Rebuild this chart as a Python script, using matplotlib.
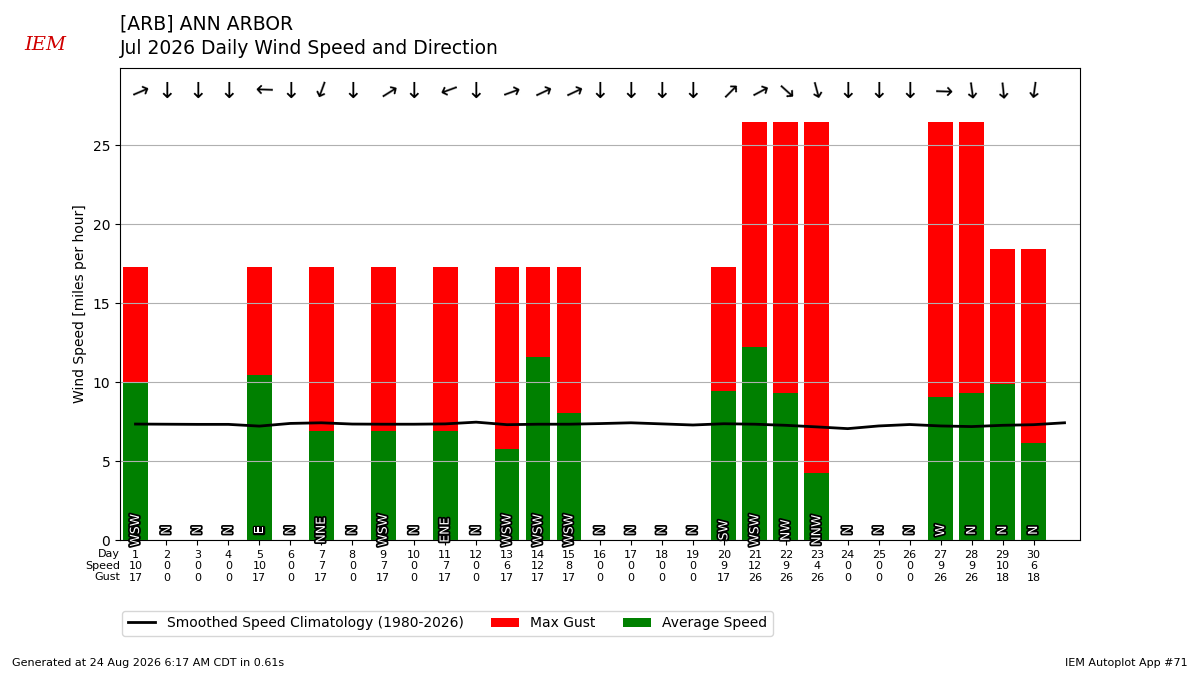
import matplotlib
matplotlib.use("Agg")
import matplotlib.pyplot as plt
import matplotlib.patheffects as pe
import matplotlib.transforms as mtransforms
from matplotlib.textpath import TextPath
from matplotlib.font_manager import FontProperties
import numpy as np

days = list(range(1, 31))
avg_speed = [10.0, 0, 0, 0, 10.44, 0, 6.9, 0, 6.9, 0, 6.9, 0, 5.76, 11.58, 8.04,
             0, 0, 0, 0, 9.43, 12.2, 9.3, 4.24, 0, 0, 0, 9.05, 9.3, 9.87, 6.14]
max_gust = [17.26, 0, 0, 0, 17.26, 0, 17.26, 0, 17.26, 0, 17.26, 0, 17.26, 17.26, 17.26,
            0, 0, 0, 0, 17.26, 26.47, 26.47, 26.47, 0, 0, 0, 26.47, 26.47, 18.41, 18.41]
drct = [247, 0, 0, 0, 92, 0, 20, 0, 238, 0, 70, 0, 250, 245, 245,
        0, 0, 0, 0, 225, 242, 312, 345, 0, 0, 0, 272, 352, 354, 8]
drct_text = ["WSW", "N", "N", "N", "E", "N", "NNE", "N", "WSW", "N", "ENE", "N", "WSW", "WSW", "WSW",
             "N", "N", "N", "N", "SW", "WSW", "NW", "NNW", "N", "N", "N", "W", "N", "N", "N"]
clim_days = list(range(1, 32))
clim_speed = [7.34, 7.33, 7.32, 7.32, 7.21, 7.38, 7.42, 7.34, 7.33, 7.33, 7.35, 7.46, 7.30,
              7.33, 7.33, 7.37, 7.42, 7.35, 7.28, 7.36, 7.33, 7.26, 7.16, 7.05, 7.22, 7.31,
              7.22, 7.18, 7.26, 7.30, 7.42]

fig = plt.figure(figsize=(12, 6.75), dpi=100)
ax = fig.add_axes([0.1, 0.2, 0.8, 0.7])

ax.bar(days, max_gust, width=0.8, color="r", label="Max Gust", zorder=1)
ax.bar(days, avg_speed, width=0.8, color="g", label="Average Speed", zorder=1)
ax.plot(clim_days, clim_speed, color="k", lw=2, zorder=3,
        label="Smoothed Speed Climatology (1980-2026)")

ymax = max(max_gust) * 1.13
ax.set_ylim(0, ymax)
ax.set_xlim(0.5, 31.5)
ax.yaxis.grid(True)

ARROW = "\u2193"
ARROW_FS = 16
ext = TextPath((0, 0), ARROW, size=ARROW_FS,
               prop=FontProperties(family="DejaVu Sans")).get_extents()
cy = (ext.y0 + ext.y1) / 2.0
cx = -2.2  # vertical correction for rotated glyphs (points)

for d, dr, txt in zip(days, drct, drct_text):
    th = np.deg2rad(-dr)
    dx = cy * np.sin(th)
    dy = -cy * np.cos(th) - cx * np.sin(th)
    tr = ax.transData + mtransforms.ScaledTranslation(dx / 72.0, dy / 72.0,
                                                      fig.dpi_scale_trans)
    ax.text(d, 28.5, ARROW, rotation=-dr, ha="center", va="baseline",
            rotation_mode="anchor", fontsize=ARROW_FS, transform=tr)
    ax.text(d, 0.62, txt, rotation=90, ha="center", va="center", fontsize=9,
            color="white", zorder=5,
            path_effects=[pe.withStroke(linewidth=2.5, foreground="k")])

ax.set_xticks(days)
ax.set_xticklabels([f"{d}\n{s:.0f}\n{g:.0f}" for d, s, g in zip(days, avg_speed, max_gust)],
                   fontsize=8)
ax.set_ylabel("Wind Speed [miles per hour]", fontsize=10)
ax.tick_params(axis="y", labelsize=10)

fig.text(0.1, 1 - 549 / 675, "Day\nSpeed\nGust", ha="right", va="top", fontsize=8,
         multialignment="right")

h, l = ax.get_legend_handles_labels()
ax.legend(h, l, ncol=3, loc="upper left",
          bbox_to_anchor=(-0.005, -0.135), fontsize=10)

fig.text(0.1, 1 - 15 / 675, "[ARB] ANN ARBOR\nJul 2026 Daily Wind Speed and Direction",
         ha="left", va="top", fontsize=13.5, linespacing=1.3)
fig.text(0.038, 1 - 45 / 675, "IEM", color="#d00000", fontsize=14, style="italic",
         family="DejaVu Serif", ha="center", va="center")
fig.text(0.01, 0.01, "Generated at 24 Aug 2026 6:17 AM CDT in 0.61s", fontsize=8,
         ha="left", va="bottom")
fig.text(0.99, 0.01, "IEM Autoplot App #71", fontsize=8, ha="right", va="bottom")

fig.savefig("out.png", dpi=100)
